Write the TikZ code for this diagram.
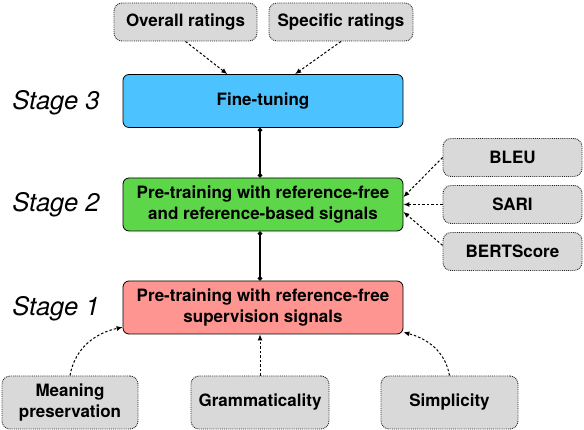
\documentclass[tikz,border=0pt]{standalone}
\usepackage{fontspec}
\setmainfont{TeX Gyre Heros}
\usetikzlibrary{arrows.meta}
\definecolor{tuneblue}{RGB}{76,195,255}
\definecolor{midgreen}{RGB}{94,214,74}
\definecolor{lowred}{RGB}{255,149,144}
\definecolor{signalgray}{RGB}{217,217,217}
\begin{document}
\begin{tikzpicture}[x=1pt, y=1pt]
            \tikzstyle{stagebox} = [draw=black, line width=0.8pt, rounded corners=6pt, minimum width=280pt, minimum height=53pt, align=center, font=\fontsize{17}{21}\selectfont\bfseries]
            \tikzstyle{signalbox} = [draw=black!85, densely dotted, line width=0.9pt, fill=signalgray, rounded corners=8pt, minimum height=38pt, align=center, font=\fontsize{17}{20.5}\selectfont\bfseries]
            \tikzstyle{stagename} = [font=\fontsize{25.5}{30}\selectfont\itshape]
            \tikzstyle{feed} = [dash pattern=on 2.5pt off 2pt, line width=1pt, -{Latex[length=6pt, width=5pt]}]
            \tikzstyle{joint} = [line width=1.4pt, {Circle[length=4.5pt]}-{Circle[length=4.5pt]}]

            \useasboundingbox (0, 0) rectangle (584, 430);

            % stages
            \node[stagebox, fill=tuneblue] (tune) at (263, 329) {Fine-tuning};
            \node[stagebox, fill=midgreen] (mixed) at (263, 225.5) {Pre-training with reference-free\\and reference-based signals};
            \node[stagebox, fill=lowred] (free) at (263, 122.5) {Pre-training with reference-free\\supervision signals};
            \node[stagename] (s3) at (56, 327) {Stage 3};
            \node[stagename] (s2) at (56, 225) {Stage 2};
            \node[stagename] (s1) at (56, 121) {Stage 1};

            % signals
            \node[signalbox, minimum width=143pt] (overall) at (185.5, 408) {Overall ratings};
            \node[signalbox, minimum width=144pt] (specific) at (341, 408) {Specific ratings};
            \node[signalbox, minimum width=139pt] (bleu) at (512.5, 272.5) {BLEU};
            \node[signalbox, minimum width=139pt] (sari) at (512.5, 225.5) {SARI};
            \node[signalbox, minimum width=139pt] (bert) at (512.5, 178.5) {BERTScore};
            \node[signalbox, minimum width=136pt, minimum height=53pt] (meaning) at (70, 27.5) {Meaning\\preservation};
            \node[signalbox, minimum width=138pt, minimum height=53pt] (gram) at (260, 27.5) {Grammaticality};
            \node[signalbox, minimum width=137pt, minimum height=53pt] (simple) at (449.5, 27.5) {Simplicity};

            \draw[joint] ([xshift=-3pt]tune.south) -- ([xshift=-3pt]mixed.north);
            \draw[joint] ([xshift=-3pt]mixed.south) -- ([xshift=-3pt]free.north);

            \draw[feed] (overall.south) -- (tune.143);
            \draw[feed] (specific.south) -- (tune.40);
            \draw[feed] (bleu.west) -- (mixed.3);
            \draw[feed] (sari.west) -- (mixed.east);
            \draw[feed] (bert.175) -- (mixed.-3);
            \draw[feed] (meaning.north) to[out=80, in=192] (free.188);
            \draw[feed] (gram.north) -- ([xshift=-3pt]free.south);
            \draw[feed] (simple.north) to[out=100, in=-15] (free.350);
        \end{tikzpicture}
\end{document}
